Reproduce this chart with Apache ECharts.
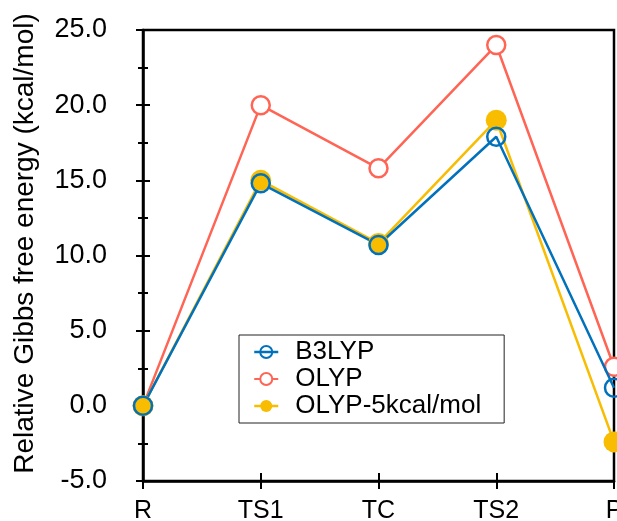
<!DOCTYPE html>
<html>
<head>
<meta charset="utf-8">
<script src="https://cdn.jsdelivr.net/npm/echarts@6/dist/echarts.min.js"></script>
<style>
  html, body { margin: 0; padding: 0; background: #fff; }
  #chart { width: 617px; height: 521px; }
</style>
</head>
<body>
<div id="chart"></div>
<script>
const states = ['R', 'TS1', 'TC', 'TS2', 'P']
const b3lyp = [0.0, 14.8, 10.7, 17.9, 1.2]
const olyp = [0.0, 20.0, 15.8, 24.0, 2.6]
const olypShifted = [0.0, 15.0, 10.8, 19.0, -2.4]

const BLUE = '#0071BC'
const RED = '#FF6454'
const YELLOW = '#F8BC00'
const FONT = 'Liberation Sans, Arial, sans-serif'

let chart = echarts.init(document.getElementById('chart'))

// series share names so the legend shows 3 entries, extra ones only set layering
let option = {
  animation: false,
  grid: {
    left: 143, right: 3, top: 30, bottom: 40,
    outerBoundsMode: 'none',
    show: true, borderColor: '#000', borderWidth: 2.5
  },
  legend: {
    left: 239, top: 335, orient: 'vertical',
    itemWidth: 24, itemHeight: 15, itemGap: 1,
    padding: [4, 23, 4, 14],
    borderColor: '#222', borderWidth: 1,
    textStyle: { fontFamily: FONT, fontSize: 26, color: '#000', padding: [0, 0, 0, 12] },
    data: [
      { name: 'B3LYP', lineStyle: { width: 2.5, color: BLUE, opacity: 1 } },
      { name: 'OLYP' },
      { name: 'OLYP-5kcal/mol', lineStyle: { width: 2.5, color: YELLOW, opacity: 1 } }
    ]
  },
  xAxis: [
    {
      type: 'category', data: states, boundaryGap: false,
      axisLine: { onZero: false, lineStyle: { color: '#000', width: 2.5 } },
      axisTick: { length: 8, lineStyle: { color: '#000', width: 2 } },
      axisLabel: { fontFamily: FONT, fontSize: 25, color: '#000', margin: 18 }
    },
    {
      type: 'category', data: states, boundaryGap: false, position: 'bottom',
      axisLine: { show: false, onZero: false },
      axisTick: { inside: true, length: 8, lineStyle: { color: '#000', width: 2 } },
      axisLabel: { show: false }
    }
  ],
  yAxis: [
    {
      type: 'value', min: -5, max: 25, interval: 5,
      name: 'Relative Gibbs free energy (kcal/mol)',
      nameLocation: 'middle', nameGap: 104,
      nameTextStyle: { fontFamily: FONT, fontSize: 28, color: '#000', padding: [0, 0, 0, 24] },
      axisLine: { show: true, lineStyle: { color: '#000', width: 2.5 } },
      axisTick: { show: true, length: 7, lineStyle: { color: '#000', width: 2 } },
      minorTick: { show: true, splitNumber: 2, length: 5, lineStyle: { color: '#000', width: 2 } },
      splitLine: { show: false },
      axisLabel: {
        fontFamily: FONT, fontSize: 27, color: '#000', margin: 36,
        formatter: v => v.toFixed(1)
      }
    },
    {
      type: 'value', min: -5, max: 25, interval: 5, position: 'left',
      axisLine: { show: false },
      axisTick: { show: true, inside: true, length: 7, lineStyle: { color: '#000', width: 2 } },
      minorTick: { show: true, splitNumber: 2, length: 5, lineStyle: { color: '#000', width: 2 } },
      splitLine: { show: false },
      axisLabel: { show: false }
    }
  ],
  series: [
    {
      name: 'B3LYP', type: 'line', data: b3lyp, z: 6,
      symbol: 'circle', symbolSize: 18,
      itemStyle: { color: 'rgba(255,255,255,0)', borderColor: BLUE, borderWidth: 2.5 },
      lineStyle: { width: 0, color: BLUE, opacity: 0 }
    },
    {
      name: 'OLYP', type: 'line', data: olyp, z: 2,
      symbol: 'circle', symbolSize: 18,
      itemStyle: { color: '#fff', borderColor: RED, borderWidth: 2.5 },
      lineStyle: { width: 2.5, color: RED }
    },
    {
      name: 'OLYP-5kcal/mol', type: 'line', data: olypShifted, z: 5,
      symbol: 'circle', symbolSize: 21,
      itemStyle: { color: YELLOW, borderColor: YELLOW, borderWidth: 0 },
      lineStyle: { width: 0, color: YELLOW, opacity: 0 }
    },
    {
      name: 'B3LYP', type: 'line', data: b3lyp, z: 4,
      symbol: 'none',
      lineStyle: { width: 2.5, color: BLUE }
    },
    {
      name: 'OLYP-5kcal/mol', type: 'line', data: olypShifted, z: 3,
      symbol: 'none',
      lineStyle: { width: 2.5, color: YELLOW }
    }
  ]
}
chart.setOption(option)
</script>
</body>
</html>
